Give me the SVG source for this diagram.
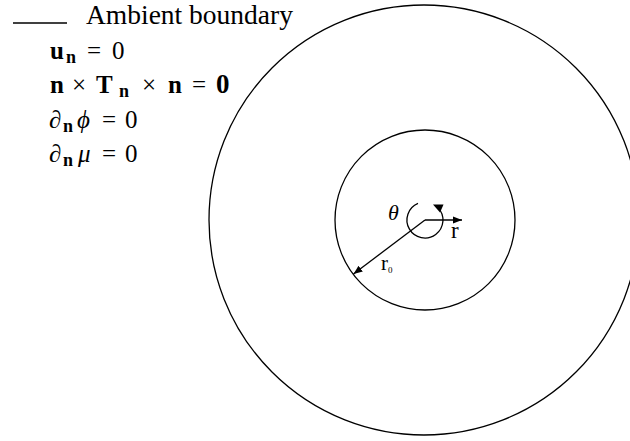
<svg xmlns="http://www.w3.org/2000/svg" width="630" height="441" viewBox="0 0 630 441">
<defs>
<style>
text{font-family:"Liberation Serif","Times New Roman","DejaVu Serif",serif;fill:#000}
.t{font-size:25px}
.s{font-size:18px;font-weight:bold}
.b{font-weight:bold}
.i{font-style:italic}
.ln{fill:none;stroke:#000;stroke-width:1.3}
</style>
<marker id="ah" viewBox="0 0 10 10" refX="10" refY="5" markerWidth="9" markerHeight="9" markerUnits="userSpaceOnUse" orient="auto">
<path d="M0,1 L10,5 L0,9 z" fill="#000"/>
</marker>
</defs>
<rect width="630" height="441" fill="#fff"/>
<g id="legend">
<line class="ln" x1="13" y1="23" x2="67" y2="23"/>
<text x="86" y="24" font-size="27.5">Ambient boundary</text>
<text class="t" y="59"><tspan class="b" x="50">u</tspan><tspan class="s" x="66" y="63">n</tspan><tspan x="87" y="59">=</tspan><tspan x="112">0</tspan></text>
<text class="t" y="93"><tspan class="b" x="50">n</tspan><tspan x="72">×</tspan><tspan class="b" x="96">T</tspan><tspan class="s" x="119" y="97">n</tspan><tspan x="142" y="93">×</tspan><tspan class="b" x="168">n</tspan><tspan x="192">=</tspan><tspan class="b" x="216" font-size="27">0</tspan></text>
<text class="t" y="128"><tspan x="49">∂</tspan><tspan class="s" x="63" y="132">n</tspan><tspan class="i" x="77" y="128">ϕ</tspan><tspan x="102">=</tspan><tspan x="125">0</tspan></text>
<text class="t" y="162"><tspan x="49">∂</tspan><tspan class="s" x="63" y="166">n</tspan><tspan class="i" x="78" y="162">μ</tspan><tspan x="102">=</tspan><tspan x="125">0</tspan></text>
</g>
<g id="outer-circle">
<circle class="ln" cx="424" cy="220" r="215"/>
</g>
<g id="inner-circle">
<circle class="ln" cx="425" cy="220" r="90"/>
</g>
<g id="connectors">
<path class="ln" d="M438,207.6 A18,18 0 1 1 418,203.4" stroke-width="1.1"/>
<path d="M433,204.5 L443.5,204.5 L440,212.5 z" fill="#000"/>
<line class="ln" x1="425" y1="220" x2="462" y2="220" stroke-width="1.1" marker-end="url(#ah)"/>
<line class="ln" x1="425" y1="220" x2="353.5" y2="274" stroke-width="1.1" marker-end="url(#ah)"/>
</g>
<g id="labels">
<text class="i" x="388" y="220" font-size="22">θ</text>
<text x="451" y="238" font-size="23">r</text>
<text x="381" y="270" font-size="21">r<tspan font-size="9" dy="3">0</tspan></text>
</g>
</svg>
